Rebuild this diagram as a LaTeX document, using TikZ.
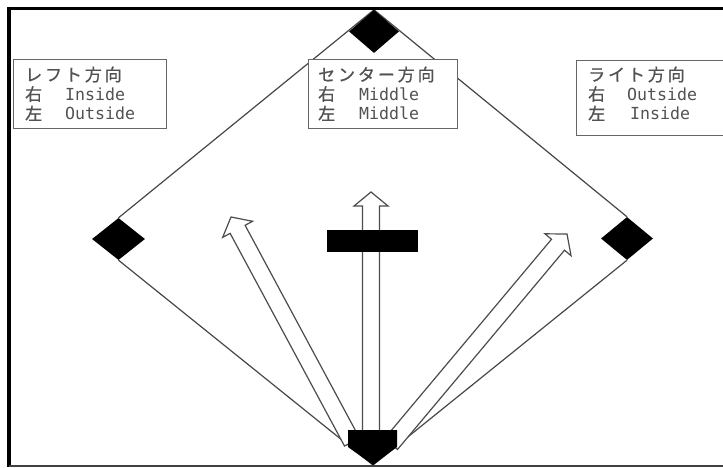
\documentclass[tikz,border=0pt]{standalone}
\usepackage{fontspec}
\newfontfamily\jp[LetterSpace=17, FakeBold=0.8]{Noto Sans CJK JP}
\newfontfamily\lat{DejaVu Sans Mono}
\usetikzlibrary{shapes.geometric,calc,backgrounds}

\tikzset{
  base/.style={diamond, fill=black, inner sep=0pt, draw=none},
  fieldline/.style={draw=black!72, line width=1.2pt},
  infobox/.style={draw=black!60, line width=1.2pt, fill=white, inner sep=0pt},
  lbl/.style={anchor=base west, inner sep=0pt, text=black!68,
              font=\fontsize{17}{20}\selectfont},
  hollow/.style={draw=black!70, line width=1.2pt, fill=white, line join=miter},
}

% CJK text with wide fixed pitch, Latin text in half-width cells
\newcommand\ja[1]{{\jp #1}}
\newcommand\en[1]{{\lat\fontsize{16.6}{20}\selectfont #1}}

% hollow block arrow from #1 (tail) to #2 (tip)
\newcommand\hollowarrow[2]{%
  \draw[hollow]
    ($(#1)!8.5pt!90:(#2)$) --
    ($($(#2)!14pt!(#1)$)!8.5pt!90:(#2)$) --
    ($($(#2)!14pt!(#1)$)!17pt!90:(#2)$) --
    (#2) --
    ($($(#2)!14pt!(#1)$)!17pt!-90:(#2)$) --
    ($($(#2)!14pt!(#1)$)!8.5pt!-90:(#2)$) --
    ($(#1)!8.5pt!-90:(#2)$) -- cycle;}

\begin{document}
\begin{tikzpicture}[x=1pt, y=-1pt]
  \useasboundingbox (0,0) rectangle (723,468);

  % outer frame (open to the right)
  \draw[line width=3.2pt] (730,8.5) -- (9,8.5) -- (9,467);
  \draw[line width=2pt, black!75] (9,466) -- (730,466);

  % bases
  \node[base, minimum width=50pt, minimum height=43pt] (second) at (374,31.5) {};
  \node[base, minimum width=53pt, minimum height=42pt] (third) at (118.5,239) {};
  \node[base, minimum width=52pt, minimum height=43pt] (first) at (627,238.5) {};
  \coordinate (home) at (373,465);

  % base lines, kept behind the bases
  \begin{scope}[on background layer]
    \path[fieldline] (third.north) -- (second.north) -- (first.north);
    \path[fieldline] (third.south) -- (home) -- (first.south);
  \end{scope}

  % batted-ball direction arrows
  \coordinate (ltail) at (352,442);
  \coordinate (ltip)  at (231,217);
  \coordinate (ctail) at (371,432);
  \coordinate (ctip)  at (371,192);
  \coordinate (rtail) at (391,444);
  \coordinate (rtip)  at (567,234);
  \hollowarrow{ltail}{ltip}
  \hollowarrow{rtail}{rtip}
  \hollowarrow{ctail}{ctip}

  % home plate
  \fill (348,430) -- (397,430) -- (397,447) -- (home) -- (348,447) -- cycle;

  % pitcher's plate
  \node[fill=black, minimum width=91pt, minimum height=22pt, inner sep=0pt]
    (mound) at (372.5,241) {};

  % info boxes
  \node[infobox, anchor=north west, minimum width=153pt, minimum height=69pt]
    (leftbox) at (13,59) {};
  \node[infobox, anchor=north west, minimum width=149pt, minimum height=69pt]
    (centerbox) at (308,59) {};
  \node[infobox, anchor=north west, minimum width=170pt, minimum height=75pt]
    (rightbox) at (576,60) {};

  \node[lbl] (l1) at (25,81) {\ja{レフト方向}};
  \node[lbl] (l2) at (25,100.5) {\makebox[40pt][l]{\ja{右}}\en{Inside}};
  \node[lbl] (l3) at (25,120) {\makebox[40pt][l]{\ja{左}}\en{Outside}};

  \node[lbl] (c1) at (318,81) {\ja{センター方向}};
  \node[lbl] (c2) at (318,100.5) {\makebox[41pt][l]{\ja{右}}\en{Middle}};
  \node[lbl] (c3) at (318,120) {\makebox[41pt][l]{\ja{左}}\en{Middle}};

  \node[lbl] (r1) at (588,81) {\ja{ライト方向}};
  \node[lbl] (r2) at (588,100.5) {\makebox[39pt][l]{\ja{右}}\en{Outside}};
  \node[lbl] (r3) at (588,120) {\makebox[42pt][l]{\ja{左}}\en{Inside}};
\end{tikzpicture}
\end{document}
